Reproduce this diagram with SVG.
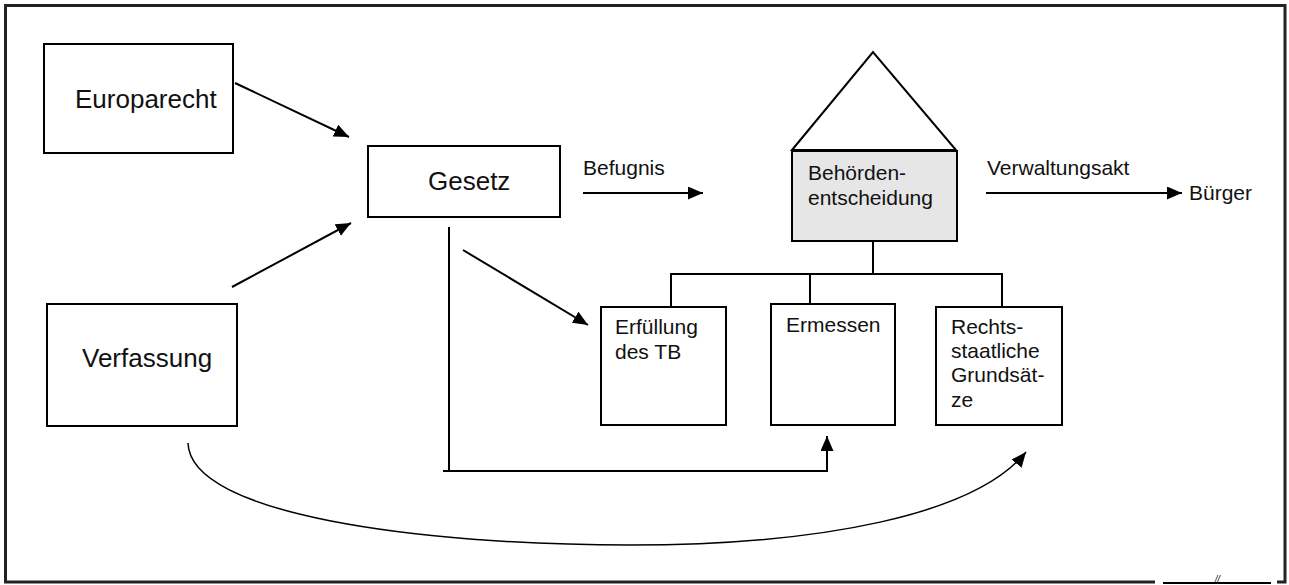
<svg xmlns="http://www.w3.org/2000/svg" width="1289" height="585" viewBox="0 0 1289 585">
<defs>
<marker id="ah" markerUnits="userSpaceOnUse" markerWidth="16" markerHeight="14" refX="15" refY="6.5" orient="auto">
<path d="M0,0 L15,6.5 L0,13 z" fill="#000"/>
</marker>
<style>
.box{fill:#fff;stroke:#000;stroke-width:2}
.big{font-family:"Liberation Sans",Arial,sans-serif;font-size:26px;fill:#111}
.sm{font-family:"Liberation Sans",Arial,sans-serif;font-size:21px;fill:#111}
.ln{fill:none;stroke:#000;stroke-width:2}
.arr{fill:none;stroke:#000;stroke-width:2;marker-end:url(#ah)}
</style>
</defs>
<rect width="1289" height="585" fill="#fff"/>
<g id="frame">
<path d="M1155,582 L5.5,582 L5.5,5.5 L1285,5.5 L1285,582 L1277,582" fill="none" stroke="#222" stroke-width="3"/>
<line x1="1163" y1="583" x2="1271" y2="583" stroke="#000" stroke-width="2"/>
<text x="1215" y="582" font-family="Liberation Sans,Arial,sans-serif" font-size="9" font-style="italic" fill="#000">//</text>
</g>
<g id="europarecht">
<rect class="box" x="44" y="44" width="189" height="109"/>
<text class="big" x="75" y="108">Europarecht</text>
</g>
<g id="verfassung">
<rect class="box" x="47" y="304" width="190" height="122"/>
<text class="big" x="82" y="367">Verfassung</text>
</g>
<g id="gesetz">
<rect class="box" x="368" y="146" width="192" height="71"/>
<text class="big" x="428" y="190">Gesetz</text>
</g>
<g id="behoerdenentscheidung">
<polygon points="792,150 873,52 956,150" fill="#fff" stroke="#000" stroke-width="2"/>
<rect x="792" y="151" width="165" height="90" fill="#e6e6e6" stroke="#000" stroke-width="2"/>
<text class="sm" x="808" y="180">Behörden-</text>
<text class="sm" x="808" y="205">entscheidung</text>
</g>
<g id="erfuellung">
<rect class="box" x="601" y="307" width="125" height="118"/>
<text class="sm" x="615" y="334">Erfüllung</text>
<text class="sm" x="615" y="359">des TB</text>
</g>
<g id="ermessen">
<rect class="box" x="771" y="304" width="124" height="121"/>
<text class="sm" x="786" y="332">Ermessen</text>
</g>
<g id="rechtsstaatliche">
<rect class="box" x="936" y="307" width="126" height="118"/>
<text class="sm" x="951" y="334">Rechts-</text>
<text class="sm" x="951" y="358">staatliche</text>
<text class="sm" x="951" y="382">Grundsät-</text>
<text class="sm" x="951" y="407">ze</text>
</g>
<g id="befugnis-label">
<text class="sm" x="583" y="175">Befugnis</text>
</g>
<g id="verwaltungsakt-label">
<text class="sm" x="987" y="175">Verwaltungsakt</text>
</g>
<g id="buerger">
<text class="sm" x="1189" y="200">Bürger</text>
</g>
<g id="connectors">
<line class="arr" x1="235" y1="83" x2="349" y2="137"/>
<line class="arr" x1="232" y1="287" x2="351" y2="223"/>
<line class="arr" x1="583" y1="193" x2="703" y2="193"/>
<line class="arr" x1="986" y1="193" x2="1182" y2="193"/>
<line class="arr" x1="463" y1="250" x2="588" y2="325"/>
<path class="ln" d="M873,241 L873,274 M671,307 L671,274 L1002,274 L1002,307 M810,274 L810,304"/>
<path class="ln" d="M449,227 L449,471 M443,471 L827,471"/>
<line class="arr" x1="827" y1="472" x2="827" y2="436"/>
<path fill="none" stroke="#000" stroke-width="1.5" marker-end="url(#ah)" d="M188,443 C190,515 420,545 630,545 C820,545 975,515 1026,452"/>
</g>
</svg>
